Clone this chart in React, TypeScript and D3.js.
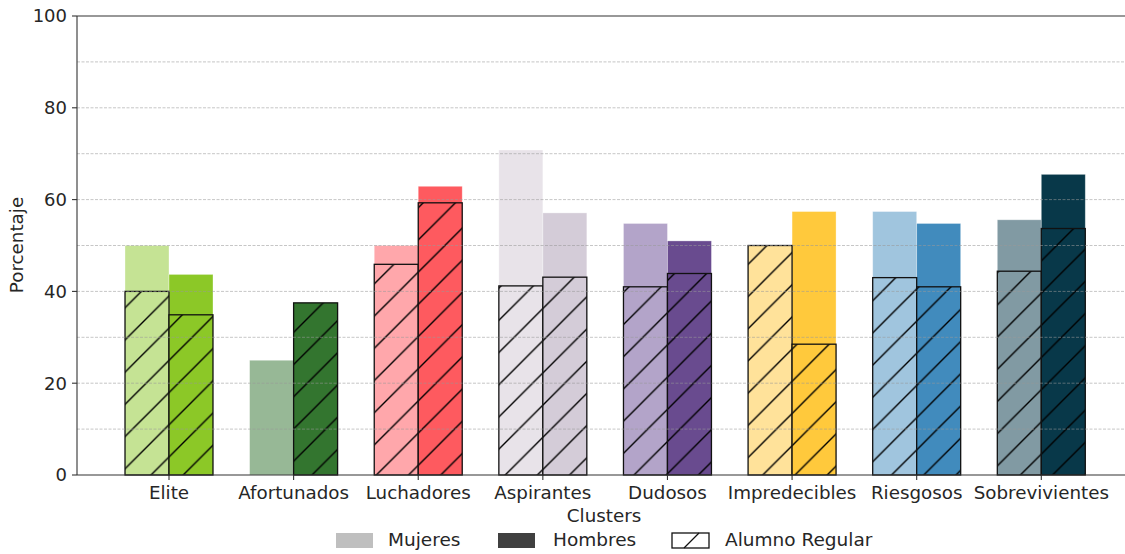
import React from "react";
import * as d3 from "d3";

const categories = ["Elite", "Afortunados", "Luchadores", "Aspirantes", "Dudosos", "Impredecibles", "Riesgosos", "Sobrevivientes"];
const mujeresTotal = [50, 25, 50, 70.8, 54.8, 50, 57.4, 55.6];
const mujeresRegular = [40, 0, 45.9, 41.2, 41, 50, 43, 44.4];
const hombresTotal = [43.7, 37.5, 62.9, 57.1, 51, 57.4, 54.8, 65.5];
const hombresRegular = [34.9, 37.5, 59.3, 43.1, 43.9, 28.5, 41, 53.7];
const mujeresColors = ["#c5e394", "#97b896", "#ffa7ab", "#e8e3e9", "#b3a4c9", "#ffe29a", "#a0c5de", "#819aa3"];
const hombresColors = ["#8cc827", "#33752f", "#fe5a5f", "#d4ccd8", "#694b8f", "#ffc93c", "#418bbd", "#083849"];
const yTicks = [0, 20, 40, 60, 80, 100];
const gridValues = [10, 20, 30, 40, 50, 60, 70, 80, 90];
const legendItems = [
  { label: "Mujeres", kind: "m" },
  { label: "Hombres", kind: "h" },
  { label: "Alumno Regular", kind: "r" },
];

const W = 1125;
const H = 554;
const FONT = "'DejaVu Sans', sans-serif";

export default function App() {
  const x = d3.scalePoint<string>().domain(categories).range([169, 1041.3]);
  const step = x.step();
  const bw = step * 0.353;
  const y = d3.scaleLinear().domain([0, 100]).range([475, 16]);
  const left = 77;
  const y0 = y(0);
  const hs = 32.2;
  const phase = 465 % hs;

  const legendX = [336, 498, 672];
  const legendTextX = [388, 553, 725];
  const hatchStroke = "#000";
  const hatchW = 1.4;

  return (
    <div style={{ position: "absolute", left: 0, top: 0 }}>
      <svg width={W} height={H} style={{ display: "block" }}>
        <defs>
          <pattern id="hatch" patternUnits="userSpaceOnUse" width={hs} height={hs} x={phase} y={0}>
            <line x1={-1} y1={hs + 1} x2={hs + 1} y2={-1} stroke={hatchStroke} strokeWidth={hatchW} />
            <line x1={-1} y1={1} x2={1} y2={-1} stroke={hatchStroke} strokeWidth={hatchW} />
            <line x1={hs - 1} y1={hs + 1} x2={hs + 1} y2={hs - 1} stroke={hatchStroke} strokeWidth={hatchW} />
          </pattern>
        </defs>
        <rect x={0} y={0} width={W} height={H} fill="#fff" />

        {categories.map((c, i) => {
          const cx = x(c)!;
          return (
            <g key={"t" + c}>
              <rect x={cx - bw} y={y(mujeresTotal[i])} width={bw} height={y0 - y(mujeresTotal[i])} fill={mujeresColors[i]} stroke="#fff" strokeOpacity={0.4} strokeWidth={0.8} />
              <rect x={cx} y={y(hombresTotal[i])} width={bw} height={y0 - y(hombresTotal[i])} fill={hombresColors[i]} stroke="#fff" strokeOpacity={0.4} strokeWidth={0.8} />
            </g>
          );
        })}

        {categories.map((c, i) => {
          const cx = x(c)!;
          return (
            <g key={"r" + c}>
              {mujeresRegular[i] > 0 && (
                <g>
                  <rect x={cx - bw} y={y(mujeresRegular[i])} width={bw} height={y0 - y(mujeresRegular[i])} fill={mujeresColors[i]} />
                  <rect x={cx - bw} y={y(mujeresRegular[i])} width={bw} height={y0 - y(mujeresRegular[i])} fill="url(#hatch)" stroke="#111" strokeWidth={1.3} />
                </g>
              )}
              {hombresRegular[i] > 0 && (
                <g>
                  <rect x={cx} y={y(hombresRegular[i])} width={bw} height={y0 - y(hombresRegular[i])} fill={hombresColors[i]} />
                  <rect x={cx} y={y(hombresRegular[i])} width={bw} height={y0 - y(hombresRegular[i])} fill="url(#hatch)" stroke="#111" strokeWidth={1.3} />
                </g>
              )}
            </g>
          );
        })}

        {gridValues.map((v) => (
          <line key={"g" + v} x1={left} x2={W} y1={y(v)} y2={y(v)} stroke="#999" strokeOpacity={0.7} strokeWidth={0.8} strokeDasharray="3,1.5" />
        ))}

        <line x1={left} x2={W} y1={y(100)} y2={y(100)} stroke="#333" strokeWidth={1.1} />
        <line x1={left} x2={W} y1={y0} y2={y0} stroke="#333" strokeWidth={1.1} />
        <line x1={left} x2={left} y1={y(100)} y2={y0} stroke="#333" strokeWidth={1.1} />

        {yTicks.map((t) => (
          <g key={"yt" + t}>
            <line x1={left - 5} x2={left} y1={y(t)} y2={y(t)} stroke="#333" strokeWidth={1.1} />
            <text x={left - 10} y={y(t)} dy="0.35em" textAnchor="end" fontFamily={FONT} fontSize={18} fill="#262626">{t}</text>
          </g>
        ))}

        {categories.map((c) => (
          <g key={"xt" + c}>
            <line x1={x(c)!} x2={x(c)!} y1={y0} y2={y0 + 5} stroke="#333" strokeWidth={1.1} />
            <text x={x(c)!} y={499} textAnchor="middle" fontFamily={FONT} fontSize={18.3} fill="#262626">{c}</text>
          </g>
        ))}

        <text x={604} y={522} textAnchor="middle" fontFamily={FONT} fontSize={18.3} fill="#262626">Clusters</text>
        <text transform={`translate(23,245) rotate(-90)`} textAnchor="middle" fontFamily={FONT} fontSize={18.3} fill="#262626">Porcentaje</text>

        {legendItems.map((it, i) => (
          <g key={"l" + it.label}>
            {it.kind === "m" && <rect x={legendX[i]} y={533} width={37} height={15} fill="#bfbfbf" />}
            {it.kind === "h" && <rect x={legendX[i]} y={533} width={37} height={15} fill="#404040" />}
            {it.kind === "r" && (
              <g>
                <rect x={legendX[i]} y={533} width={37} height={15} fill="#fff" stroke="#111" strokeWidth={1.3} />
                <line x1={legendX[i] + 12} y1={548} x2={legendX[i] + 27} y2={533} stroke="#111" strokeWidth={1.3} />
              </g>
            )}
            <text x={legendTextX[i]} y={546} fontFamily={FONT} fontSize={18.5} fill="#262626">{it.label}</text>
          </g>
        ))}
      </svg>
    </div>
  );
}
